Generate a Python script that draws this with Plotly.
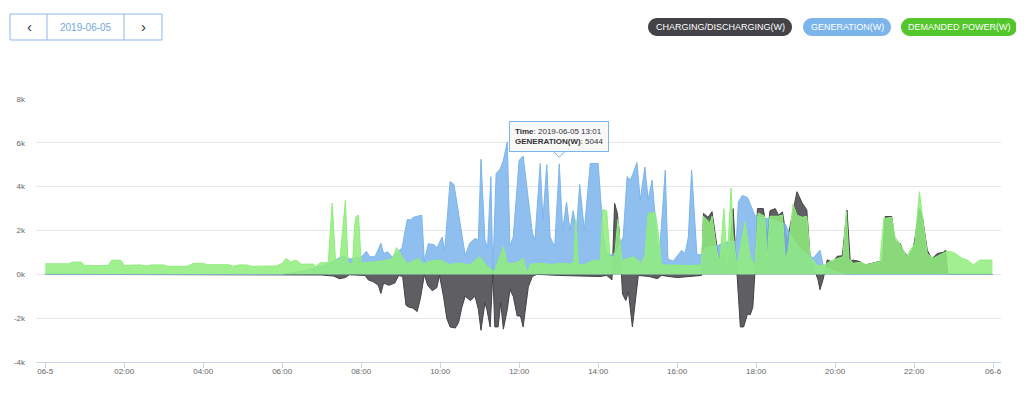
import pandas as pd
import plotly.graph_objects as go

DAY = "2019-06-05"

# ---------------- data ----------------
demand_t = ["00:00","00:36","00:42","00:55","01:00","01:36","01:41","01:55","02:00","02:24","02:33","02:42",
            "03:00","03:06","03:36","03:45","04:00","04:06","04:39","04:46","04:54","05:06","05:12","05:51",
            "06:00","06:06","06:13","06:21","06:29","06:47","06:51","06:58","07:10","07:16","07:21","07:28",
            "07:36","07:40","07:47","07:50","07:52","07:56","08:00","08:15","08:30","08:47","08:54","09:02",
            "09:10","09:27","09:34","09:45","09:55","10:03","10:15","10:27","10:38","10:45","11:00","11:05",
            "11:12","11:18","11:22","11:27","11:36","11:42","11:51","12:00","12:06","12:12","12:17","12:33",
            "12:48","13:03","13:18","13:23","13:26","13:30","13:39","13:54","14:03","14:07","14:13","14:18",
            "14:25","14:30","14:36","14:44","14:54","15:05","15:11","15:16","15:27","15:33","15:36","16:00",
            "16:18","16:37","16:40","16:50","16:53","17:00","17:05","17:11","17:16","17:22","17:25","17:31",
            "17:43","17:51","17:58","18:03","18:13","18:17","18:21","18:33","18:40","18:44","18:49","18:56",
            "19:02","19:10","19:17","19:22","19:33","19:42","19:53","20:03","20:12","20:17","20:21","20:28",
            "20:39","20:47","20:59","21:08","21:14","21:26","21:31","21:36","21:49","21:54","22:01","22:08",
            "22:13","22:20","22:29","22:40","22:50","23:00","23:13","23:21","23:30","23:40","23:59"]
demand_w = [480,480,560,560,400,400,650,640,410,430,380,430,
            430,370,370,500,500,440,440,370,430,430,370,380,
            500,720,560,650,460,470,360,530,530,3250,620,730,
            3390,500,500,2200,2630,2700,520,560,600,700,1220,800,
            480,730,470,600,650,620,430,520,470,430,800,600,
            350,230,100,500,1260,500,500,580,730,50,460,500,
            450,500,470,550,2500,450,450,650,600,2950,2900,800,
            800,2500,600,720,800,500,850,2800,2800,1500,430,420,
            400,430,2650,2350,2650,1100,580,3000,580,3940,1800,350,
            2400,800,350,2800,2650,700,2650,2650,2700,700,1100,3200,
            2700,2600,2650,800,400,400,600,720,800,2860,700,500,
            560,430,500,580,2550,2600,1700,1500,800,1100,1400,3770,
            2550,950,730,880,1050,1000,730,650,430,650,650]

gen_t = ["00:00","06:00","06:18","06:36","06:54","07:06","07:18","07:28","07:33","07:43","08:00","08:08",
         "08:13","08:21","08:30","08:34","08:40","08:47","08:54","09:02","09:10","09:15","09:19","09:32",
         "09:36","09:42","09:51","09:55","10:03","10:07","10:15","10:21","10:38","10:45","10:53","10:58",
         "11:02","11:08","11:12","11:17","11:20","11:25","11:31","11:36","11:42","11:46","11:51","12:00",
         "12:06","12:12","12:20","12:24","12:32","12:36","12:42","12:47","12:54","13:01","13:06","13:12",
         "13:17","13:22","13:27","13:32","13:39","13:48","14:00","14:04","14:08","14:13","14:21","14:29",
         "14:38","14:44","14:49","14:53","14:59","15:04","15:11","15:16","15:22","15:27","15:30","15:34",
         "15:42","15:46","15:54","16:07","16:12","16:17","16:22","16:30","16:38","16:42","17:00","17:18",
         "17:30","17:33","17:39","17:47","17:55","17:58","18:06","18:24","18:44","18:54","19:06","19:18",
         "19:27","19:37","19:42","19:54","20:06","20:18","23:59"]
gen_w = [0,0,80,180,330,450,620,750,840,700,780,1050,
         800,800,1420,950,1030,800,1000,1200,2500,2480,2600,2700,
         600,1400,1350,1200,1700,1100,4230,4100,870,1420,1640,1550,
         5250,1570,1200,4460,100,4600,4800,5200,6050,1300,1700,5200,
         5400,4000,1900,1570,5060,2500,5000,1700,1260,5044,2000,3300,
         2000,2900,2000,4100,2000,5060,5060,3400,1800,960,880,1100,
         1700,4460,4300,4600,5100,3380,4900,3400,4300,2500,1260,1300,
         4760,700,600,1100,950,1700,4760,900,900,1200,1300,1500,
         1500,3300,3600,3500,2900,2700,2600,2500,2300,1700,1200,900,
         750,1100,400,200,50,0,0]

charge_t = ["00:00","06:00","06:30","07:00","07:18","07:27","07:36","07:42","08:06","08:11","08:18","08:26",
            "08:30","08:34","08:42","08:51","08:57","09:03","09:08","09:11","09:19","09:25","09:30","09:36",
            "09:41","09:48","09:55","09:59","10:05","10:10","10:15","10:23","10:28","10:33","10:38","10:42",
            "10:46","10:53","10:58","11:02","11:08","11:11","11:16","11:20","11:23","11:28","11:32","11:36",
            "11:42","11:46","11:51","11:57","12:02","12:06","12:10","12:14","12:20","12:27","13:00","13:30",
            "14:03","14:13","14:21","14:25","14:29","14:32","14:35","14:37","14:42","14:46","14:52","14:56",
            "15:01","15:18","15:30","15:36","16:00","16:18","16:37","16:40","16:47","16:53","17:01","17:05",
            "17:10","17:17","17:25","17:31","17:36","17:41","17:47","17:51","17:55","17:58","18:02","18:11",
            "18:17","18:21","18:29","18:34","18:40","18:47","18:52","19:02","19:10","19:17","19:22","19:30",
            "19:34","19:37","19:42","19:48","19:56","20:03","20:11","20:18","20:23","20:28","20:38","20:46",
            "20:54","21:06","21:12","21:16","21:26","21:31","21:39","21:43","21:51","21:59","22:08","22:13",
            "22:20","22:27","22:35","22:44","22:48","22:51","23:59"]
charge_w = [0,0,-20,-30,-80,-200,-150,-20,-50,-260,-330,-500,
            -870,-400,-500,-400,-50,-100,-1400,-1480,-1550,-1700,-1100,-20,
            -500,-750,-600,-50,-1000,-2000,-2400,-2450,-2200,-1500,-1000,-1100,
            -1200,-1000,-1600,-2550,-1300,-1600,-2400,50,-2400,-2400,-1300,-2500,
            -1600,-700,-1000,-1900,-1900,-2400,-1400,-560,-100,0,-50,-80,
            -100,-50,-250,3240,2800,2000,0,-900,-1200,-800,-2400,-1300,
            -50,-100,-200,-50,-150,-100,-50,2780,2600,2860,1160,670,
            1000,50,3000,0,-2400,-2400,-1800,-1850,-1500,0,3000,3000,
            1700,2900,3000,2700,2850,1500,2300,3770,3250,2940,800,50,
            -250,-700,-200,660,550,820,850,2930,600,650,580,430,
            500,580,600,2640,2640,1500,1400,1100,780,1200,3000,2550,
            1100,700,950,1000,1100,0,0]

series_names = ["CHARGING/DISCHARGING(W)", "GENERATION(W)", "DEMANDED POWER(W)"]
x_tick_text = ["06-5", "02:00", "04:00", "06:00", "08:00", "10:00", "12:00",
               "14:00", "16:00", "18:00", "20:00", "22:00", "06-6"]
y_tick_vals = [-4000, -2000, 0, 2000, 4000, 6000, 8000]
y_tick_text = ["-4k", "-2k", "0k", "2k", "4k", "6k", "8k"]
tooltip_time = "13:01"
tooltip_value = 5044


def ts(hhmm):
    return pd.Timestamp(f"{DAY} {hhmm}")


FONT = "Liberation Sans, Arial, sans-serif"
OFF = 8                       # page body margin offset
W, H = 1024 - OFF, 397 - OFF
# plot area in reference page pixels: x 36..1001, y 99..362
ML, MT = 36 - OFF, 99 - OFF
MR = W - (1001 - OFF)
MB = H - (362 - OFF)
PW, PH = W - ML - MR, H - MT - MB


def px(x):  # reference page pixel -> paper x
    return (x - OFF - ML) / PW


def py(y):  # reference page pixel -> paper y
    return (H - MB - (y - OFF)) / PH


fig = go.Figure()

styles = [("#434348", "rgba(67,67,72,0.85)"),
          ("#7cb5ec", "rgba(124,181,236,0.86)"),
          ("#90ed7d", "rgba(144,237,125,0.85)")]
data = [(charge_t, charge_w), (gen_t, gen_w), (demand_t, demand_w)]
for name, (t, w), (lc, fc) in zip(series_names, data, styles):
    fig.add_trace(go.Scatter(
        x=[ts(v) for v in t], y=w, name=name, mode="lines",
        line=dict(color=lc, width=1), fill="tozeroy", fillcolor=fc,
        hoverinfo="skip", showlegend=False))

x_ticks = [ts("00:00") + pd.Timedelta(hours=2 * i) for i in range(13)]

fig.update_layout(
    width=W, height=H,
    margin=dict(l=ML, r=MR, t=MT, b=MB, pad=0, autoexpand=False),
    paper_bgcolor="white", plot_bgcolor="white",
    font=dict(family=FONT, size=8, color="#666666"),
    showlegend=False,
    xaxis=dict(
        type="date", automargin=False,
        range=[ts("00:00") - pd.Timedelta(minutes=14), ts("00:00") + pd.Timedelta(hours=24, minutes=12)],
        tickvals=x_ticks, ticktext=x_tick_text,
        showgrid=False, zeroline=False,
        showline=True, linecolor="#ccd6eb", linewidth=1,
        ticks="outside", ticklen=5, tickcolor="#ccd6eb", ticklabelstandoff=-4,
        tickfont=dict(size=8, color="#666666"),
        fixedrange=True),
    yaxis=dict(
        automargin=False,
        range=[-4000, 8000], tickvals=y_tick_vals, ticktext=y_tick_text,
        showgrid=True, gridcolor="#e6e6e6", gridwidth=1, zeroline=False,
        showline=False, ticks="", ticklabelstandoff=10,
        tickfont=dict(size=8, color="#666666"),
        fixedrange=True),
)

shapes = []
annotations = []

# ---- date navigation box ----
nav_col = "#8ab9e9"
shapes.append(dict(type="rect", xref="paper", yref="paper",
                   x0=px(10), x1=px(162), y0=py(40), y1=py(14),
                   line=dict(color=nav_col, width=1), fillcolor="white", layer="above"))
for xd in (47, 124):
    shapes.append(dict(type="line", xref="paper", yref="paper",
                       x0=px(xd), x1=px(xd), y0=py(40), y1=py(14),
                       line=dict(color=nav_col, width=1)))
annotations += [
    dict(text="‹", x=px(29), y=py(27), xref="paper", yref="paper", showarrow=False,
         font=dict(size=15, color="#333333", family=FONT), xanchor="center", yanchor="middle", yshift=1),
    dict(text="2019-06-05", x=px(86), y=py(27), xref="paper", yref="paper", showarrow=False,
         font=dict(size=10, color="#6fa8e0", family=FONT), xanchor="center", yanchor="middle"),
    dict(text="›", x=px(143), y=py(27), xref="paper", yref="paper", showarrow=False,
         font=dict(size=15, color="#333333", family=FONT), xanchor="center", yanchor="middle", yshift=1),
]


# ---- pill legend ----
def pill(x0, x1, y0, y1):
    r = (y1 - y0) / 2.0
    k = 0.5523 * r
    ym = (y0 + y1) / 2.0
    pts = [
        ("M", [(x0 + r, y0)]),
        ("L", [(x1 - r, y0)]),
        ("C", [(x1 - r + k, y0), (x1, ym - k), (x1, ym)]),
        ("C", [(x1, ym + k), (x1 - r + k, y1), (x1 - r, y1)]),
        ("L", [(x0 + r, y1)]),
        ("C", [(x0 + r - k, y1), (x0, ym + k), (x0, ym)]),
        ("C", [(x0, ym - k), (x0 + r - k, y0), (x0 + r, y0)]),
    ]
    s = ""
    for cmd, ps in pts:
        s += cmd + " ".join(f"{px(a):.5f},{py(b):.5f}" for a, b in ps) + " "
    return s + "Z"


legend_boxes = [(648, 792, "#434348"), (803, 891, "#7cb5ec"), (901, 1017, "#52c62b")]
for (x0, x1, col), name in zip(legend_boxes, series_names):
    shapes.append(dict(type="path", xref="paper", yref="paper", path=pill(x0, x1, 18, 36),
                       fillcolor=col, line=dict(width=0), layer="above"))
    annotations.append(dict(text=name, x=px((x0 + x1) / 2), y=py(27), xref="paper", yref="paper",
                            showarrow=False, xanchor="center", yanchor="middle",
                            font=dict(size=9, color="white", family=FONT)))

# ---- tooltip ----
tt_x = ts(tooltip_time)
annotations.append(dict(
    x=tt_x, y=tooltip_value, xref="x", yref="y", showarrow=False,
    xanchor="center", yanchor="bottom", yshift=12,
    text=f"<b>Time</b>: {DAY} {tooltip_time}<br><b>GENERATION(W)</b>: {tooltip_value}",
    align="left", font=dict(size=8, color="#333333", family=FONT),
    bgcolor="rgba(247,247,247,0.92)", bordercolor="#7cb5ec", borderwidth=1, borderpad=5))
shapes.append(dict(type="path", xref="x", yref="y", xsizemode="pixel", ysizemode="pixel",
                   xanchor=tt_x, yanchor=tooltip_value,
                   path="M -6,12.5 L 0,6.5 L 6,12.5 Z",
                   fillcolor="rgba(247,247,247,1)", line=dict(color="#7cb5ec", width=1), layer="above"))

fig.update_layout(shapes=shapes, annotations=annotations)
fig.write_html("out.html", config={"displayModeBar": False})
